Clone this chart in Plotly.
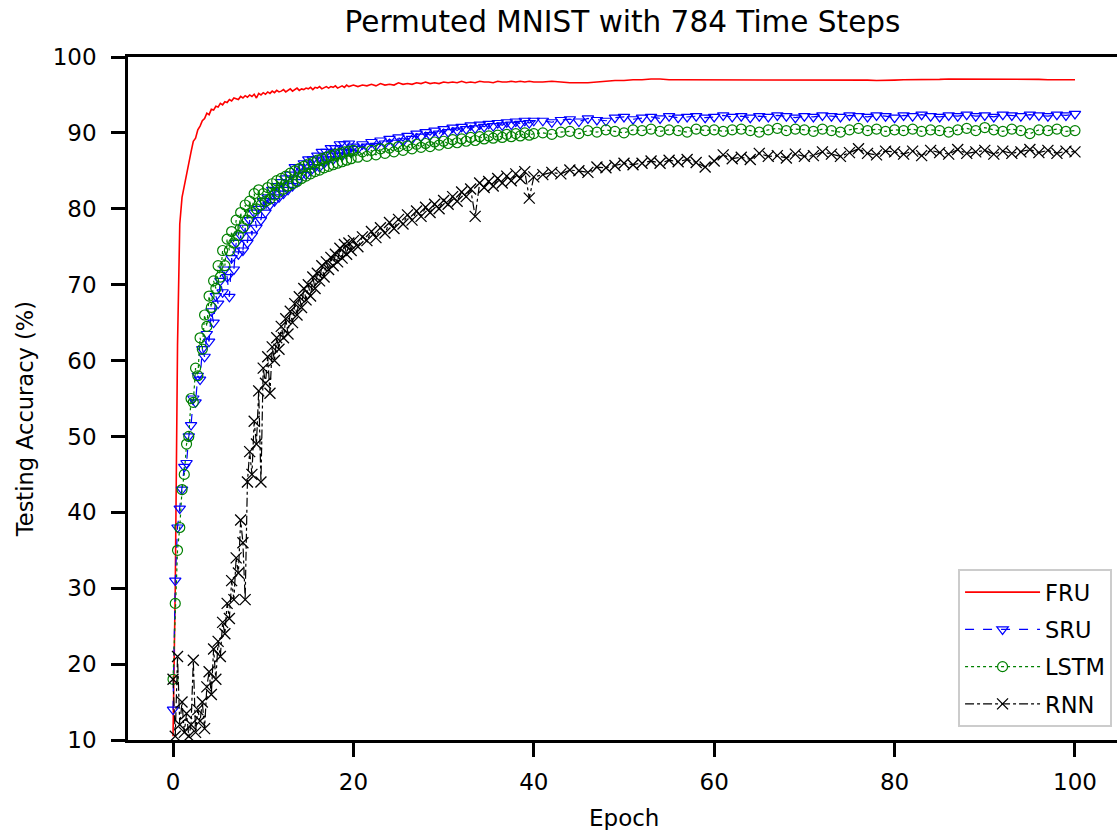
import numpy as np
import plotly.graph_objects as go

# evaluation epochs: dense early, one per epoch later on
epoch_fine = np.arange(0, 20.01, 0.25)
epoch_mid = np.arange(20.5, 40.01, 0.5)
epoch_late = np.arange(41, 100.01, 1)
epochs = np.concatenate([epoch_fine, epoch_mid, epoch_late])

fru_acc = [
    10.5, 30, 62, 78, 81.5, 83, 85, 86.4, 87.5, 88.9,
    89.3, 90.4, 90.9, 91.6, 91.9, 92.6, 92.4, 93.1, 93.0, 93.5,
    93.4, 93.9, 93.7, 94.1, 94.0, 94.4, 94.2, 94.6, 94.5, 94.4,
    94.8, 94.6, 94.9, 94.7, 95.0, 94.8, 95.1, 94.6, 95.2, 95.0,
    95.3, 95.1, 95.4, 95.2, 95.5, 95.3, 95.6, 95.4, 95.5, 95.7,
    95.4, 95.6, 95.8, 95.5, 95.7, 95.9, 95.6, 95.8, 95.7, 95.9,
    95.8, 96.0, 95.7, 96.0, 95.9, 96.1, 95.8, 96.0, 96.1, 95.9,
    96.1, 96.0, 96.2, 95.9, 96.1, 96.2, 96.0, 96.3, 96.1, 96.2,
    96.3,
    96.1, 96.3, 96.2, 96.4, 96.2, 96.5, 96.3, 96.4, 96.3, 96.6,
    96.4, 96.5, 96.4, 96.6, 96.5, 96.7, 96.5, 96.6, 96.5, 96.7,
    96.6, 96.7, 96.6, 96.8, 96.6, 96.7, 96.6, 96.8, 96.7, 96.7,
    96.6, 96.8, 96.7, 96.7, 96.8, 96.7, 96.8, 96.7, 96.8, 96.7,
    96.7, 96.8, 96.7, 96.6, 96.6, 96.6, 96.7, 96.8, 96.9, 96.9,
    97.0, 97.0, 97.1, 97.1, 97.0, 97.0, 97.0, 97.0, 97.0, 97.0,
    97.0, 97.0, 96.95, 97.0, 97.0, 96.95, 97.0, 97.0, 96.95, 97.0,
    96.95, 96.95, 97.0, 97.0, 97.0, 96.95, 96.95, 96.9, 96.9, 96.95,
    97.0, 97.0, 97.0, 97.05, 97.05, 97.1, 97.1, 97.1, 97.1, 97.1,
    97.1, 97.1, 97.1, 97.05, 97.05, 97.05, 97.0, 97.0, 97.0, 97.0,
]

sru_acc = [
    14, 31, 38, 40.5, 43, 46, 46.5, 50, 51.5, 55,
    54.5, 58, 57.5, 61.5, 60.5, 63.5, 62.5, 66.5, 65, 68.5,
    67.5, 70.5, 69, 72, 71, 68.4, 73.5, 72, 75.5, 74,
    76.5, 74.5, 77.5, 75.5, 78.5, 76.5, 79.5, 77.5, 80, 78.5,
    81, 79.5, 81.5, 80.5, 82.5, 81, 83, 81.5, 83.5, 82,
    84, 82.5, 84.5, 83, 85.5, 83.5, 85.5, 84.5, 86, 84.5,
    86.5, 85, 86.5, 85.5, 87, 85.5, 87.5, 86, 87.5, 86.5,
    88, 86.5, 88, 87, 88.5, 87, 88.5, 87.5, 88.6, 87.4,
    88.2,
    87.9, 88.5, 88.2, 88.8, 88.3, 89.0, 88.6, 89.2, 88.7, 89.4,
    88.9, 89.6, 89.2, 89.9, 89.5, 90.1, 89.7, 90.3, 89.9, 90.5,
    90.1, 90.7, 90.3, 90.8, 90.5, 91.0, 90.6, 91.1, 90.8, 91.2,
    90.9, 91.3, 91.0, 91.4, 91.1, 91.5, 91.2, 91.6, 91.3, 91.6,
    91.6, 91.4, 91.7, 91.8, 91.5, 91.9, 91.7, 91.6, 92.0, 92.1,
    91.8, 92.0, 92.1, 91.9, 92.2, 92.0, 92.1, 92.2, 92.0, 92.1,
    92.3, 92.1, 92.2, 92.0, 92.2, 92.1, 92.3, 92.2, 92.0, 92.2,
    92.1, 92.3, 92.2, 92.1, 92.3, 92.2, 92.1, 92.3, 92.2, 92.0,
    92.3, 92.2, 92.4, 92.2, 92.1, 92.3, 92.2, 92.4, 92.2, 92.3,
    92.1, 92.4, 92.3, 92.2, 92.4, 92.3, 92.2, 92.4, 92.3, 92.5,
]

lstm_acc = [
    18, 28, 35, 38, 43, 45, 49, 50, 55, 54.5,
    59, 58, 63, 61.5, 66, 64.5, 68.5, 67, 70.5, 69.5,
    72.5, 71, 74.5, 72.5, 76, 74.5, 77, 75.5, 78.5, 76.5,
    79.5, 77.5, 80.5, 78.5, 81, 79.5, 82, 80, 82.5, 80.5,
    82, 81, 82.8, 81.3, 83.3, 81.8, 83.7, 82.2, 84, 82.6,
    84.3, 83, 84.7, 83.3, 85, 83.6, 85.3, 84, 85.6, 84.3,
    85.9, 84.6, 86.1, 84.9, 86.4, 85.1, 86.6, 85.4, 86.8, 85.6,
    87, 85.8, 87.2, 86, 87.3, 86.2, 87.5, 86.4, 87.6, 86.6,
    87.7,
    86.8, 87.5, 86.9, 87.7, 87.1, 87.9, 87.3, 88.0, 87.5, 88.2,
    87.7, 88.3, 87.9, 88.5, 88.1, 88.6, 88.2, 88.8, 88.4, 88.9,
    88.6, 89.1, 88.7, 89.2, 88.9, 89.4, 89.0, 89.5, 89.2, 89.6,
    89.3, 89.7, 89.4, 89.8, 89.5, 89.9, 89.6, 90.0, 89.7, 89.9,
    90.0, 89.8, 90.1, 90.2, 89.9, 90.3, 90.1, 90.4, 90.2, 90.0,
    90.4, 90.3, 90.5, 90.2, 90.4, 90.3, 90.1, 90.5, 90.3, 90.4,
    90.2, 90.4, 90.5, 90.3, 90.1, 90.4, 90.6, 90.3, 90.5, 90.4,
    90.2, 90.5, 90.3, 90.1, 90.4, 90.6, 90.3, 90.5, 90.2, 90.4,
    90.3, 90.5, 90.2, 90.4, 90.3, 90.1, 90.4, 90.6, 90.3, 90.7,
    90.4, 90.2, 90.5, 90.3, 89.9, 90.4, 90.3, 90.5, 90.2, 90.3,
]

rnn_acc = [
    18, 10.5, 21, 12, 15, 11, 13.5, 10.5, 12, 20.5,
    11, 14, 12.5, 15, 11.5, 17, 19, 16, 22, 18,
    23, 21, 25.5, 24, 28, 26, 31, 28.5, 34, 32,
    39, 36, 28.5, 44, 48, 45, 52, 49, 56, 44,
    59, 57, 60.5, 55.7, 61.8, 60, 63, 61.5, 64.5, 63,
    65.5, 63.5, 66.5, 65, 67.5, 66, 68.4, 67, 69.5, 68,
    70, 68.5, 71, 69.5, 71.5, 70.5, 72.5, 71, 73, 72,
    73.6, 72.5, 74, 73, 74.8, 73.5, 75.3, 74, 75.5, 74.5,
    75.8,
    75, 76.3, 75.8, 77, 76.2, 77.5, 76.8, 78.2, 77.4, 78.6,
    78, 79.2, 78.5, 79.7, 79, 80.2, 79.5, 80.6, 80, 81.1,
    80.6, 81.6, 81, 82.2, 81.6, 82.6, 79, 83.4, 82.8, 83.6,
    83, 84, 83.4, 84.3, 83.7, 84.6, 84, 84.9, 81.4, 84.2,
    84.5, 84.8, 84.6, 85.1, 85.0, 84.8, 85.5, 85.4, 85.7, 86.0,
    85.8, 86.0, 86.3, 86.0, 86.4, 86.2, 86.5, 86.1, 85.5, 86.3,
    87.1, 86.6, 86.8, 86.5, 87.3, 86.9, 87.0, 86.7, 87.2, 86.9,
    87.0, 87.5, 87.2, 86.9, 87.4, 87.9, 87.3, 87.1, 87.6, 87.5,
    87.2, 87.6, 87.0, 87.7, 87.4, 87.2, 87.8, 87.3, 87.5, 87.7,
    87.2, 87.6, 87.3, 87.5, 87.8, 87.4, 87.7, 87.3, 87.6, 87.5,
]

x_ticks = [0, 20, 40, 60, 80, 100]
y_ticks = [10, 20, 30, 40, 50, 60, 70, 80, 90, 100]

font = "DejaVu Sans"

fig = go.Figure()

# FRU - plain red line
fig.add_trace(go.Scatter(
    x=epochs, y=fru_acc, name="FRU", mode="lines", legendgroup="a",
    line=dict(color="#ff0000", width=1.6),
))

# SRU - blue dashed with open down triangles
fig.add_trace(go.Scatter(
    x=epochs, y=sru_acc, name="SRU", mode="lines+markers", legendgroup="b",
    line=dict(color="#0000ff", width=1.2, dash="dash"),
    marker=dict(symbol="triangle-down-open", size=10, color="#0000ff", line=dict(width=1.2)),
))

# LSTM - green dotted with open circles
fig.add_trace(go.Scatter(
    x=epochs, y=lstm_acc, name="LSTM", mode="lines+markers", legendgroup="c",
    line=dict(color="#008000", width=1.2, dash="dot"),
    marker=dict(symbol="circle-open", size=10, color="#008000", line=dict(width=1.2)),
))

# RNN - black dash-dot with x markers
fig.add_trace(go.Scatter(
    x=epochs, y=rnn_acc, name="RNN", mode="lines+markers", legendgroup="d",
    line=dict(color="#000000", width=1.2, dash="dashdot"),
    marker=dict(symbol="x-thin-open", size=11, color="#000000", line=dict(width=1.3)),
))

axis_style = dict(
    showgrid=False, zeroline=False, showline=True, linecolor="black", linewidth=2.5,
    ticks="outside", ticklen=14, tickwidth=2.5, tickcolor="black",
    tickfont=dict(family=font, size=23, color="black"),
)

fig.update_xaxes(range=[-4.99, 104.66], tickvals=x_ticks, mirror=True,
                 ticklabelstandoff=6, **axis_style)
fig.update_yaxes(range=[10, 100], tickvals=y_ticks, mirror=False,
                 ticklabelstandoff=10, **axis_style)

fig.update_layout(
    width=1117, height=830,
    margin=dict(l=128, r=0, t=57, b=90),
    plot_bgcolor="white", paper_bgcolor="white",
    font=dict(family=font, color="black"),
    title=dict(text="Permuted MNIST with 784 Time Steps", x=0.5, xref="paper", xanchor="center",
               y=1 - 22 / 830, yanchor="middle", font=dict(family=font, size=29.5, color="black")),
    showlegend=True,
    legend=dict(
        x=0.995, y=0.019, xanchor="right", yanchor="bottom",
        bgcolor="white", bordercolor="#cccccc", borderwidth=2,
        font=dict(family=font, size=22.5, color="black"),
        tracegroupgap=5, itemwidth=75,
    ),
    annotations=[
        dict(text="Testing Accuracy (%)", xref="paper", yref="paper", x=-0.104, y=0.47,
             textangle=-90, showarrow=False, xanchor="center", yanchor="middle",
             font=dict(family=font, size=22.5, color="black")),
        dict(text="Epoch", xref="paper", yref="paper", x=0.5015, y=-0.114,
             showarrow=False, xanchor="center", yanchor="middle",
             font=dict(family=font, size=23, color="black")),
    ],
)

# drop the default 8px page margin so the figure sits at the window corner
fig.write_html("out.html", config={"displayModeBar": False},
               post_script="document.body.style.margin='0';")
